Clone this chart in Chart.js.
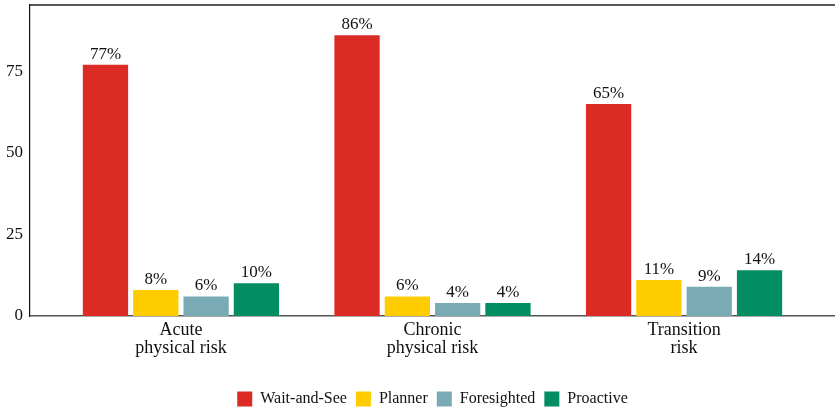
<!DOCTYPE html>
<html>
<head>
<meta charset="utf-8">
<script src="https://cdn.jsdelivr.net/npm/chart.js@4"></script>
<style>
  html, body { margin: 0; padding: 0; background: #fff; }
  #wrap { width: 835px; height: 410px; }
</style>
</head>
<body>
<div id="wrap"><canvas id="c" width="835" height="410"></canvas></div>
<script>
const categories = [["Acute", "physical risk"], ["Chronic", "physical risk"], ["Transition", "risk"]];
const seriesNames = ["Wait-and-See", "Planner", "Foresighted", "Proactive"];
const waitAndSee = [77, 86, 65];
const planner = [8, 6, 11];
const foresighted = [6, 4, 9];
const proactive = [10, 4, 14];
const yTicks = [0, 25, 50, 75];

const colors = ["#DC2A24", "#FECC00", "#7AABB5", "#028E62"];
const values = [waitAndSee, planner, foresighted, proactive];
const FONT = "'Liberation Serif', 'DejaVu Serif', serif";

const datasets = seriesNames.map((name, i) => ({
  label: name,
  data: values[i].map((v, j) => ({ x: j + 1, y: v })),
  backgroundColor: colors[i],
  borderWidth: 0,
  categoryPercentage: 0.8,
  barPercentage: 0.9
}));

// percentage labels above each bar
const valueLabels = {
  id: 'valueLabels',
  afterDatasetsDraw(chart) {
    const ctx = chart.ctx;
    ctx.save();
    ctx.font = "17px " + FONT;
    ctx.fillStyle = "#111";
    ctx.textAlign = "center";
    ctx.textBaseline = "bottom";
    chart.data.datasets.forEach((ds, di) => {
      const meta = chart.getDatasetMeta(di);
      meta.data.forEach((el, i) => {
        ctx.fillText(ds.data[i].y + "%", el.x, el.y - 2);
      });
    });
    ctx.restore();
  }
};

// top edge of the panel frame
const topFrame = {
  id: 'topFrame',
  afterDraw(chart) {
    const { ctx, chartArea } = chart;
    ctx.save();
    ctx.strokeStyle = "#222";
    ctx.lineWidth = 1.5;
    ctx.beginPath();
    ctx.moveTo(chartArea.left, chartArea.top);
    ctx.lineTo(chart.width, chartArea.top);
    ctx.stroke();
    ctx.restore();
  }
};

function noEdgePadding(scale) {
  scale.paddingTop = 0;
  scale.paddingBottom = 0;
  scale.paddingLeft = 0;
  scale.paddingRight = 0;
}

new Chart(document.getElementById('c'), {
  type: 'bar',
  data: { datasets },
  plugins: [valueLabels, topFrame],
  options: {
    responsive: false,
    animation: false,
    layout: { padding: { top: 5, right: 0, left: 0, bottom: -7 } },
    scales: {
      x: {
        type: 'linear',
        offset: false,
        min: 0.4,
        max: 3.6,
        grid: { display: false, drawTicks: false },
        border: { display: true, color: "#555", width: 1.5 },
        afterBuildTicks(scale) {
          scale.ticks = [1, 2, 3].map(v => ({ value: v }));
        },
        afterFit(scale) { scale.height = 66; noEdgePadding(scale); },
        ticks: {
          autoSkip: false,
          maxRotation: 0,
          padding: 5,
          color: "#111",
          font: { family: FONT, size: 18, lineHeight: 1.0 },
          callback: (v) => categories[Math.round(v) - 1] || ''
        }
      },
      y: {
        min: 0,
        max: 95.3,
        grid: { display: false, drawTicks: false },
        border: { display: true, color: "#111", width: 1.2 },
        afterBuildTicks(scale) {
          scale.ticks = yTicks.map(v => ({ value: v }));
        },
        afterFit(scale) { scale.width = 30; noEdgePadding(scale); },
        ticks: {
          padding: 7,
          color: "#111",
          font: { family: FONT, size: 17 }
        }
      }
    },
    plugins: {
      legend: {
        position: 'bottom',
        fullSize: false,
        labels: {
          boxWidth: 15,
          boxHeight: 15,
          padding: 9,
          color: "#111",
          font: { family: FONT, size: 16 }
        }
      },
      tooltip: { enabled: false }
    }
  }
});
</script>
</body>
</html>
